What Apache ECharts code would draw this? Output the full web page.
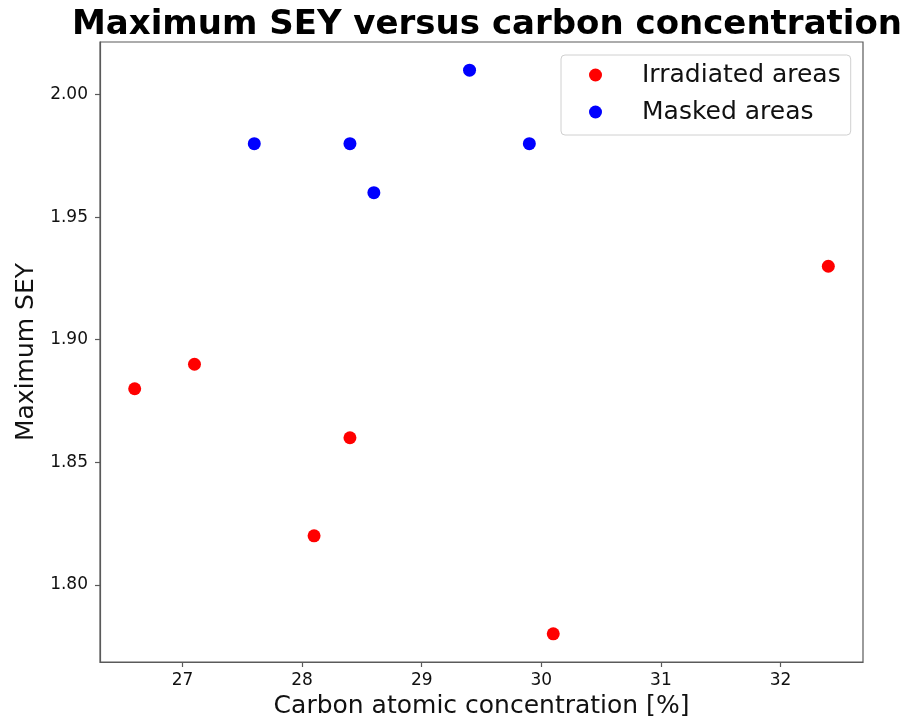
<!DOCTYPE html>
<html>
<head>
<meta charset="utf-8">
<script src="https://cdn.jsdelivr.net/npm/echarts@6/dist/echarts.min.js"></script>
<style>
  html, body { margin: 0; padding: 0; background: #fff; }
  #chart { width: 916px; height: 719px; }
</style>
</head>
<body>
<div id="chart"></div>
<script>
// Carbon atomic concentration [%] and maximum SEY per measured spot
const irradiatedCarbon = [26.6, 27.1, 28.1, 28.4, 30.1, 32.4];
const irradiatedSEY    = [1.88, 1.89, 1.82, 1.86, 1.78, 1.93];
const maskedCarbon     = [27.6, 28.4, 28.6, 29.4, 29.9];
const maskedSEY        = [1.98, 1.98, 1.96, 2.01, 1.98];

const xTicks = [27, 28, 29, 30, 31, 32];
const yTicks = [1.80, 1.85, 1.90, 1.95, 2.00];

const FONT = '"DejaVu Sans", sans-serif';

function pairs(xs, ys) {
  return xs.map((x, i) => [x, ys[i]]);
}

// Axis limits padded by 5% of the data span on each side
function padded(values) {
  const lo = Math.min(...values), hi = Math.max(...values);
  const pad = (hi - lo) * 0.05;
  return [lo - pad, hi + pad];
}
const [xMin, xMax] = padded(irradiatedCarbon.concat(maskedCarbon));
const [yMin, yMax] = padded(irradiatedSEY.concat(maskedSEY));

const axisLineStyle = { color: '#5a5a5a', width: 1.2 };

const chart = echarts.init(document.getElementById('chart'), null, { renderer: 'canvas' });
chart.setOption({
  backgroundColor: '#ffffff',
  animation: false,
  title: {
    text: 'Maximum SEY versus carbon concentration',
    left: 482,
    textAlign: 'center',
    top: 3,
    textStyle: { fontFamily: FONT, fontWeight: 'bold', fontSize: 34, color: '#000' }
  },
  grid: {
    left: 100, right: 53, top: 42, bottom: 57,
    outerBoundsMode: 'none',
    containLabel: false,
    show: true, borderColor: '#5a5a5a', borderWidth: 1.2
  },
  legend: {
    left: 561,
    top: 55,
    orient: 'vertical',
    icon: 'circle',
    itemWidth: 13,
    itemHeight: 13,
    itemGap: 9,
    padding: [6, 10, 9, 28],
    borderColor: '#d0d0d0',
    borderWidth: 1,
    borderRadius: 4,
    backgroundColor: '#ffffff',
    textStyle: { fontFamily: FONT, fontSize: 25, color: '#111', lineHeight: 28, padding: [0, 0, 0, 35] },
    data: ['Irradiated areas', 'Masked areas']
  },
  xAxis: {
    type: 'value',
    min: xMin,
    max: xMax,
    name: 'Carbon atomic concentration [%]',
    nameLocation: 'middle',
    nameGap: 32,
    nameTextStyle: { fontFamily: FONT, fontSize: 25, color: '#111' },
    axisLine: { show: true, lineStyle: axisLineStyle },
    axisTick: { show: true, inside: false, length: 5, lineStyle: axisLineStyle, customValues: xTicks },
    axisLabel: { fontFamily: FONT, fontSize: 17, color: '#111', margin: 10, customValues: xTicks, formatter: v => String(v) },
    splitLine: { show: false }
  },
  yAxis: {
    type: 'value',
    min: yMin,
    max: yMax,
    name: 'Maximum SEY',
    nameLocation: 'middle',
    nameGap: 51,
    nameRotate: 90,
    nameTextStyle: { fontFamily: FONT, fontSize: 25, color: '#111' },
    axisLine: { show: true, lineStyle: axisLineStyle },
    axisTick: { show: true, inside: false, length: 5, lineStyle: axisLineStyle, customValues: yTicks },
    axisLabel: { fontFamily: FONT, fontSize: 17, color: '#111', margin: 12, customValues: yTicks, formatter: v => v.toFixed(2) },
    splitLine: { show: false }
  },
  series: [
    {
      name: 'Irradiated areas',
      type: 'scatter',
      symbol: 'circle',
      symbolSize: 13,
      itemStyle: { color: '#ff0000', opacity: 1 },
      data: pairs(irradiatedCarbon, irradiatedSEY)
    },
    {
      name: 'Masked areas',
      type: 'scatter',
      symbol: 'circle',
      symbolSize: 13,
      itemStyle: { color: '#0000ff', opacity: 1 },
      data: pairs(maskedCarbon, maskedSEY)
    }
  ]
});
</script>
</body>
</html>
